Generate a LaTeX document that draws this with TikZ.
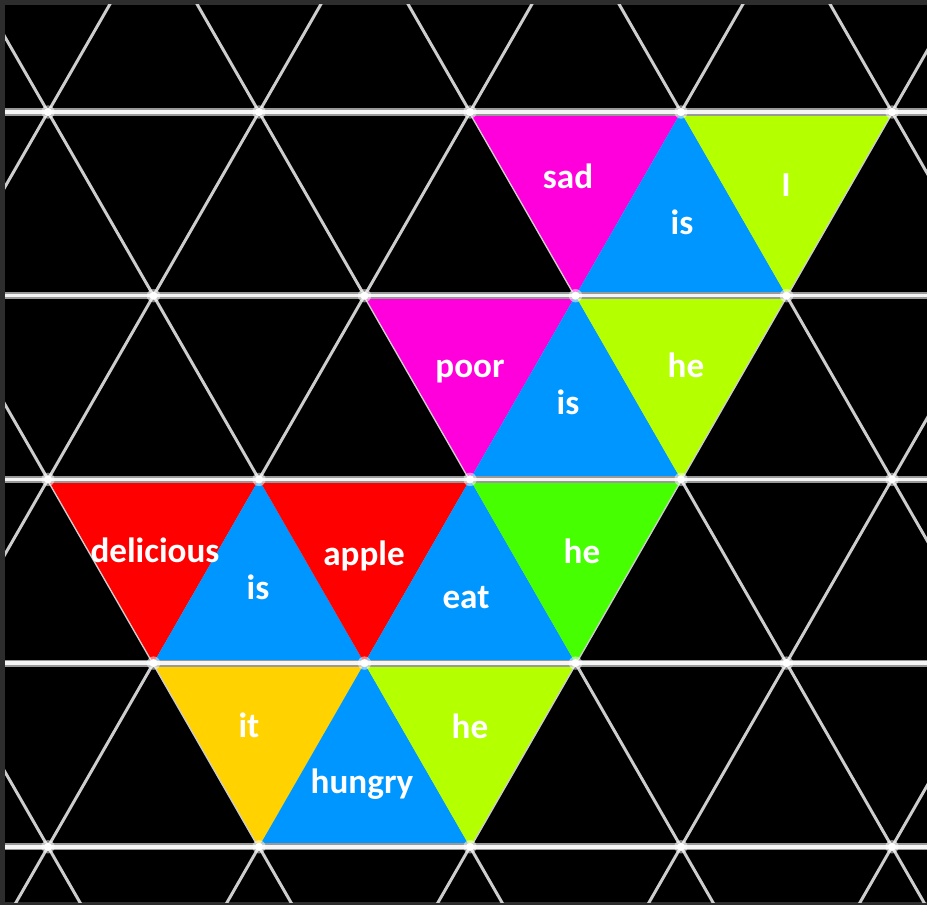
\documentclass[tikz,border=0pt]{standalone}
\usepackage{fontspec}
\setmainfont{Carlito}
\usetikzlibrary{positioning}
\definecolor{framegray}{RGB}{45,45,45}
\definecolor{gridline}{RGB}{205,205,205}
\definecolor{wmagenta}{RGB}{255,0,221}
\definecolor{wblue}{RGB}{0,150,255}
\definecolor{wlime}{RGB}{180,255,0}
\definecolor{wgreen}{RGB}{70,255,0}
\definecolor{wred}{RGB}{255,0,0}
\definecolor{wyellow}{RGB}{255,210,0}

\begin{document}
\begin{tikzpicture}[x=0.02cm,y=-0.02cm,
  word/.style={text=white,font=\fontsize{20}{20}\selectfont\bfseries,anchor=base,inner sep=0pt},
  diag/.style={draw=gridline,line width=1.7pt},
  rowglow/.style={draw=gray!80,line width=4pt},
  rowline/.style={draw=white!92!gray,line width=2pt}]
\useasboundingbox (0,0) rectangle (927,905);
\fill[framegray] (0,0) rectangle (927,905);
\fill[black] (5,5) rectangle (927,902);
\foreach \r in {0,...,4}
  \foreach \i in {0,...,8}
    \coordinate (v\r-\i) at ({48+105.5*\i},{112+183.7*\r});
\begin{scope}
\clip (5,5) rectangle (927,902);
\foreach \c in {-12,-10,...,18} {
  \draw[diag] ({48+105.5*(\c-1)},{112-183.7}) -- ({48+105.5*(\c+6)},{112+183.7*6});
  \draw[diag] ({48+105.5*(\c+1)},{112-183.7}) -- ({48+105.5*(\c-6)},{112+183.7*6});
}
\fill[wmagenta] (v0-4) -- (v0-6) -- (v1-5) -- cycle;
\fill[wblue] (v1-5) -- (v1-7) -- (v0-6) -- cycle;
\fill[wlime] (v0-6) -- (v0-8) -- (v1-7) -- cycle;
\fill[wmagenta] (v1-3) -- (v1-5) -- (v2-4) -- cycle;
\fill[wblue] (v2-4) -- (v2-6) -- (v1-5) -- cycle;
\fill[wlime] (v1-5) -- (v1-7) -- (v2-6) -- cycle;
\fill[wred] (v2-0) -- (v2-2) -- (v3-1) -- cycle;
\fill[wblue] (v3-1) -- (v3-3) -- (v2-2) -- cycle;
\fill[wred] (v2-2) -- (v2-4) -- (v3-3) -- cycle;
\fill[wblue] (v3-3) -- (v3-5) -- (v2-4) -- cycle;
\fill[wgreen] (v2-4) -- (v2-6) -- (v3-5) -- cycle;
\fill[wyellow] (v3-1) -- (v3-3) -- (v4-2) -- cycle;
\fill[wblue] (v4-2) -- (v4-4) -- (v3-3) -- cycle;
\fill[wlime] (v3-3) -- (v3-5) -- (v4-4) -- cycle;
\foreach \r in {0,...,4} {
  \draw[rowglow] (0,{112+183.7*\r}) -- (927,{112+183.7*\r});
  \draw[rowline] (0,{112+183.7*\r}) -- (927,{112+183.7*\r});
}
\foreach \r/\s in {0/0,1/1,2/0,3/1,4/0}
  \foreach \k in {0,...,4} {
    \fill[white,opacity=.5] ({48+105.5*(\s+2*\k)},{112+183.7*\r}) circle (3.8pt);
    \fill[white] ({48+105.5*(\s+2*\k)},{112+183.7*\r}) circle (2.3pt);
  }
\end{scope}
\node[word] (sad) at (568,189) {sad};
\node[word] (is1) at (682,235) {is};
\node[word] (me) at (786,197) {I};
\node[word] (poor) at (470,378) {poor};
\node[word] (is2) at (568,415) {is};
\node[word] (he1) at (686,378) {he};
\node[word] (delicious) at (155,562) {delicious};
\node[word] (is3) at (258,600) {is};
\node[word] (apple) at (364,565) {apple};
\node[word] (eat) at (466,608) {eat};
\node[word] (he2) at (582,563) {he};
\node[word] (it) at (249,737) {it};
\node[word] (hungry) at (362,793) {hungry};
\node[word] (he3) at (470,738) {he};
\end{tikzpicture}
\end{document}
